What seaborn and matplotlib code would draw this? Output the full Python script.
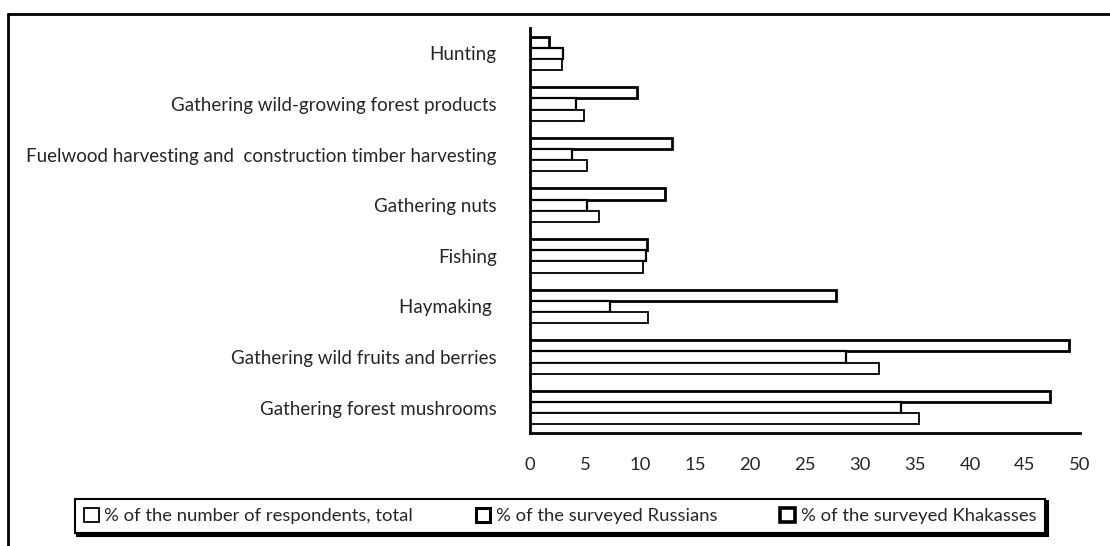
import matplotlib
matplotlib.use("Agg")
import matplotlib.pyplot as plt
from matplotlib.patches import Patch
from matplotlib.lines import Line2D
import seaborn as sns
import pandas as pd
import numpy as np

categories = [
    "Hunting",
    "Gathering wild-growing forest products",
    "Fuelwood harvesting and  construction timber harvesting",
    "Gathering nuts",
    "Fishing",
    "Haymaking ",
    "Gathering wild fruits and berries",
    "Gathering forest mushrooms",
]
series_names = [
    "% of the number of respondents, total",
    "% of the surveyed Russians",
    "% of the surveyed Khakasses",
]
total = [2.9, 4.9, 5.2, 6.3, 10.3, 10.75, 31.7, 35.4]
russians = [3.0, 4.2, 3.85, 5.2, 10.5, 7.3, 28.7, 33.7]
khakasses = [1.76, 9.7, 12.9, 12.3, 10.6, 27.8, 49.0, 47.3]
x_ticks = [0, 5, 10, 15, 20, 25, 30, 35, 40, 45, 50]

rows = []
for name, vals in zip(series_names, [total, russians, khakasses]):
    for c, v in zip(categories, vals):
        rows.append({"category": c, "series": name, "value": v})
df = pd.DataFrame(rows)

sns.set_theme(style="white")
plt.rcParams["font.family"] = ["Lato", "DejaVu Sans"]

W, H = 1110, 546
fig = plt.figure(figsize=(W / 100, H / 100), dpi=100)
ax = fig.add_axes([530 / W, 1 - 433 / H, 550 / W, 405 / H])

hue_order = [series_names[2], series_names[1], series_names[0]]
sns.barplot(data=df, y="category", x="value", hue="series", order=categories,
            hue_order=hue_order, orient="h", width=0.66, ax=ax,
            palette=["white", "white", "white"],
            edgecolor="black", linewidth=1.3, legend=False, saturation=1)

# thicker edges for Khakasses / Russians bars
for i, cont in enumerate(ax.containers):
    for p in cont:
        if hue_order[i] == series_names[2]:
            p.set_linewidth(2.0)
        elif hue_order[i] == series_names[1]:
            p.set_linewidth(1.6)

ax.set_xlim(0, 50)
ax.set_ylim(len(categories) - 0.5, -0.5)
ax.set_xticks(x_ticks)
ax.set_xticklabels([str(t) for t in x_ticks], fontsize=13.3)
ax.set_ylabel("")
ax.set_xlabel("")
ax.set_yticks(range(len(categories)))
ax.set_yticklabels(categories, fontsize=13.5)
ax.set_yticks(np.arange(-0.5, len(categories), 1.0), minor=True)
ax.tick_params(axis="y", which="major", length=0, pad=24)
ax.tick_params(axis="y", which="minor", length=5, width=1.8, color="black", direction="out")
ax.tick_params(axis="x", which="major", length=5, width=1.8, color="black", direction="out", pad=12)
for s in ["top", "right"]:
    ax.spines[s].set_visible(False)
for s in ["left", "bottom"]:
    ax.spines[s].set_color("black")
    ax.spines[s].set_linewidth(2.0)
ax.grid(False)

# outer chart frame (top and left visible, rest cropped)
fig.add_artist(Line2D([8 / W, 1.0], [1 - 14 / H, 1 - 14 / H], transform=fig.transFigure,
                      color="black", lw=2))
fig.add_artist(Line2D([8 / W, 8 / W], [0, 1 - 14 / H], transform=fig.transFigure,
                      color="black", lw=2))

handles = [
    Patch(facecolor="white", edgecolor="black", linewidth=1.3),
    Patch(facecolor="white", edgecolor="black", linewidth=2.2),
    Patch(facecolor="white", edgecolor="black", linewidth=2.6),
]
leg = fig.legend(handles, series_names, loc="center", bbox_to_anchor=(560 / W, 1 - 516 / H),
                 ncol=3, fontsize=13.3, frameon=True, fancybox=False,
                 shadow={"color": "black", "alpha": 1}, edgecolor="black",
                 handlelength=0.8, handleheight=0.8, handletextpad=0.3,
                 columnspacing=3.4, borderpad=0.5)
leg.get_frame().set_linewidth(1.5)

fig.savefig("out.png", dpi=100)
